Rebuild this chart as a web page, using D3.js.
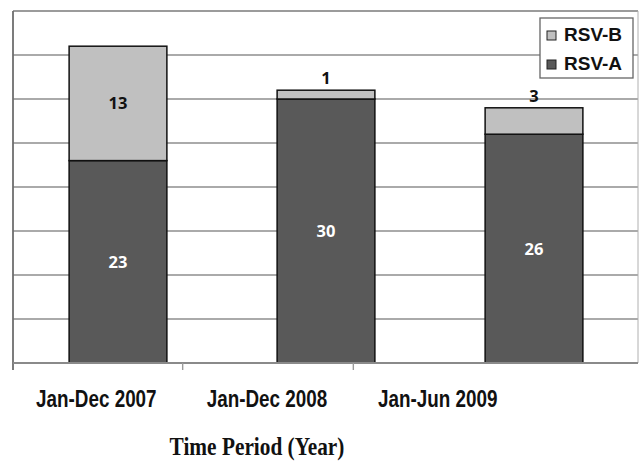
<!DOCTYPE html>
<html>
<head>
<meta charset="utf-8">
<script src="https://cdn.jsdelivr.net/npm/d3@7"></script>
<style>
  html, body { margin: 0; padding: 0; background: #fff; }
  svg { display: block; }
</style>
</head>
<body>
<svg id="chart" width="639" height="463"></svg>
<script>
// RSV cases by period, stacked by subtype
const categories = ["Jan-Dec 2007", "Jan-Dec 2008", "Jan-Jun 2009"];
const rsvA = [23, 30, 26];
const rsvB = [13, 1, 3];
const seriesNames = ["RSV-A", "RSV-B"];
const yTicks = [0, 5, 10, 15, 20, 25, 30, 35, 40];

const colors = { "RSV-A": "#595959", "RSV-B": "#c0c0c0" };

const svg = d3.select("#chart");

const plot = { left: 13, right: 638, top: 11, bottom: 363 };

const y = d3.scaleLinear().domain([0, 40]).range([plot.bottom, plot.top]);

const x = d3.scaleBand()
  .domain(categories)
  .range([plot.left + 1, plot.right])
  .paddingInner(0.53)
  .paddingOuter(0.265);

// category label axis (narrower than the bar area)
const xLab = d3.scaleBand().domain(categories).range([12, 524]).padding(0);

// gridlines
svg.append("g")
  .selectAll("line")
  .data(yTicks.filter(t => t > 0))
  .join("line")
  .attr("x1", plot.left).attr("x2", plot.right)
  .attr("y1", d => y(d)).attr("y2", d => y(d))
  .attr("stroke", d => d === 40 ? "#7a7a7a" : "#8e8e8e")
  .attr("stroke-width", 1.6);

// plot frame: left and right sides
svg.append("line")
  .attr("x1", plot.left).attr("x2", plot.left)
  .attr("y1", y(40)).attr("y2", plot.bottom + 7)
  .attr("stroke", "#6e6e6e").attr("stroke-width", 1.8);
svg.append("line")
  .attr("x1", plot.right).attr("x2", plot.right)
  .attr("y1", y(40)).attr("y2", plot.bottom)
  .attr("stroke", "#b0b0b0").attr("stroke-width", 1);

// stacked data
const rows = categories.map((c, i) => ({ cat: c, "RSV-A": rsvA[i], "RSV-B": rsvB[i] }));
const stacked = d3.stack().keys(seriesNames)(rows);

const layers = svg.append("g")
  .selectAll("g")
  .data(stacked)
  .join("g")
  .attr("fill", d => colors[d.key]);

layers.selectAll("rect")
  .data(d => d.map(p => ({ key: d.key, p })))
  .join("rect")
  .attr("x", d => x(d.p.data.cat))
  .attr("width", x.bandwidth())
  .attr("y", d => y(d.p[1]))
  .attr("height", d => y(d.p[0]) - y(d.p[1]))
  .attr("stroke", "#111")
  .attr("stroke-width", 1.5);

// baseline
svg.append("line")
  .attr("x1", plot.left).attr("x2", plot.right)
  .attr("y1", plot.bottom).attr("y2", plot.bottom)
  .attr("stroke", "#8a8a8a").attr("stroke-width", 1.8);

// category boundary ticks
svg.append("g")
  .selectAll("line")
  .data(categories.slice(1))
  .join("line")
  .attr("x1", d => xLab(d)).attr("x2", d => xLab(d))
  .attr("y1", plot.bottom).attr("y2", plot.bottom + 7)
  .attr("stroke", "#9a9a9a").attr("stroke-width", 1.4);

// value labels: small segments get their label above the bar
const labelFont = "'Open Sans', 'Noto Sans', sans-serif";
stacked.forEach(layer => {
  layer.forEach(p => {
    const v = p[1] - p[0];
    const h = y(p[0]) - y(p[1]);
    const cx = x(p.data.cat) + x.bandwidth() / 2;
    const inside = h > 40;
    svg.append("text")
      .attr("x", cx)
      .attr("y", inside ? (y(p[0]) + y(p[1])) / 2 : y(p[1]) - 6)
      .attr("dy", inside ? "0.36em" : "0")
      .attr("text-anchor", "middle")
      .attr("font-family", labelFont)
      .attr("font-weight", 700)
      .attr("font-size", 16.5)
      .attr("fill", layer.key === "RSV-A" ? "#ffffff" : "#111111")
      .text(v);
  });
});

// category labels
svg.append("g")
  .selectAll("text")
  .data(categories)
  .join("text")
  .attr("transform", d => `translate(${xLab(d) + xLab.bandwidth() / 2 - 1},407) scale(0.82,1)`)
  .attr("text-anchor", "middle")
  .attr("font-family", "'Liberation Sans', Arial, sans-serif")
  .attr("font-weight", 700)
  .attr("font-size", 23)
  .attr("fill", "#111")
  .text(d => d);

// axis title
svg.append("text")
  .attr("transform", "translate(257,455) scale(0.82,1)")
  .attr("text-anchor", "middle")
  .attr("font-family", "'Liberation Serif', 'Times New Roman', serif")
  .attr("font-weight", 700)
  .attr("font-size", 26)
  .attr("fill", "#111")
  .text("Time Period (Year)");

// legend
const legend = svg.append("g");
legend.append("rect")
  .attr("x", 540).attr("y", 18).attr("width", 93).attr("height", 60)
  .attr("fill", "#fff").attr("stroke", "#666").attr("stroke-width", 1.3);
const legendItems = ["RSV-B", "RSV-A"];
legendItems.forEach((k, i) => {
  const base = 41 + i * 29;
  legend.append("rect")
    .attr("x", 547).attr("y", base - 10).attr("width", 9).attr("height", 9)
    .attr("fill", colors[k]).attr("stroke", "#222").attr("stroke-width", 1);
  legend.append("text")
    .attr("x", 564).attr("y", base)
    .attr("font-family", "'Liberation Sans', Arial, sans-serif")
    .attr("font-weight", 700)
    .attr("font-size", 19)
    .attr("fill", "#111")
    .text(k);
});
</script>
</body>
</html>
